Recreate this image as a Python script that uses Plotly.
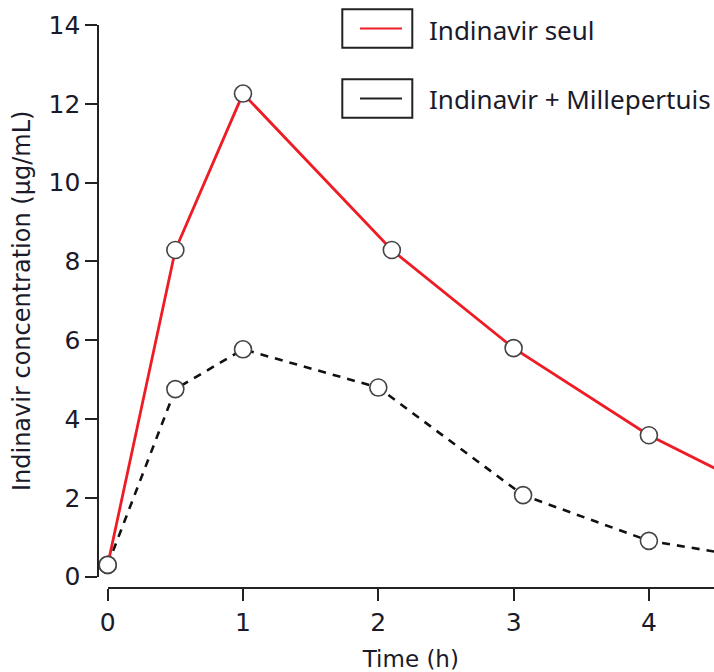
import plotly.graph_objects as go

# ---- data ----
time_alone = [0, 0.5, 1, 2.1, 3, 4, 5]
conc_alone = [0.3, 8.29, 12.26, 8.29, 5.80, 3.59, 1.87]
time_sjw = [0, 0.5, 1, 2, 3.07, 4, 5]
conc_sjw = [0.3, 4.76, 5.77, 4.80, 2.07, 0.91, 0.35]
series_names = ["Indinavir seul", "Indinavir + Millepertuis"]
x_ticks = [0, 1, 2, 3, 4]
y_ticks = [0, 2, 4, 6, 8, 10, 12, 14]
x_title = "Time (h)"
y_title = "Indinavir concentration (µg/mL)"

W, H = 714, 672


def px(x):
    return x / W


def py(y):
    return (H - y) / H


AXIS_COL = "#222222"
TICK_FONT = dict(family="DejaVu Sans", size=25, color="#1a1a2a")
marker_style = dict(symbol="circle", size=17, color="white",
                    line=dict(color="#444444", width=1.6))

fig = go.Figure()
fig.add_trace(go.Scatter(
    x=time_sjw, y=conc_sjw, mode="lines+markers", name=series_names[1],
    line=dict(color="#111111", width=2.6, dash="8px,7px"),
    marker=marker_style, cliponaxis=False, showlegend=False))
fig.add_trace(go.Scatter(
    x=time_alone, y=conc_alone, mode="lines+markers", name=series_names[0],
    line=dict(color="#ee1c25", width=2.8),
    marker=marker_style, cliponaxis=False, showlegend=False))

fig.update_layout(
    width=W, height=H,
    margin=dict(l=0, r=0, t=0, b=0),
    paper_bgcolor="white", plot_bgcolor="white",
    xaxis=dict(
        domain=[px(107.7), 1], range=[0, (714 - 107.7) / 135.3],
        anchor="free", position=py(588.3), automargin=False,
        tickvals=x_ticks, ticks="outside", ticklen=12, tickwidth=2,
        tickcolor=AXIS_COL, showline=True, linecolor=AXIS_COL, linewidth=2,
        showgrid=False, zeroline=False, tickfont=TICK_FONT,
        title=dict(text=x_title, font=dict(family="DejaVu Sans", size=23,
                                           color="#1a1a2a"), standoff=14),
    ),
    yaxis=dict(
        domain=[py(576.7), py(25)], range=[0, 14],
        anchor="free", position=px(98.3), automargin=False,
        tickvals=y_ticks, ticks="outside", ticklen=12, tickwidth=2,
        tickcolor=AXIS_COL, showline=True, linecolor=AXIS_COL, linewidth=2,
        showgrid=False, zeroline=False, tickfont=TICK_FONT,
        title=dict(text=y_title, font=dict(family="DejaVu Sans", size=24,
                                           color="#1a1a2a"), standoff=10),
    ),
)

# ---- hand-drawn style legend (boxes with line samples) ----
legend_rows = [
    dict(top=9.3, bottom=47.7, color="#ee1c25", name=series_names[0]),
    dict(top=79.3, bottom=117.7, color="#222222", name=series_names[1]),
]
for row in legend_rows:
    fig.add_shape(type="rect", xref="paper", yref="paper",
                  x0=px(342.3), x1=px(412.3), y0=py(row["bottom"]), y1=py(row["top"]),
                  line=dict(color="#222222", width=2), fillcolor="white")
    ym = (row["top"] + row["bottom"]) / 2
    fig.add_shape(type="line", xref="paper", yref="paper",
                  x0=px(360), x1=px(402), y0=py(ym), y1=py(ym),
                  line=dict(color=row["color"], width=1.8))
    fig.add_annotation(xref="paper", yref="paper", x=px(427), y=py(ym + 1),
                       xanchor="left", yanchor="middle", showarrow=False,
                       text=row["name"],
                       font=dict(family="Noto Sans", size=26, color="#1a1a2a"))

fig.write_html("out.html",
               config={"displayModeBar": False},
               post_script="document.body.style.margin='0px';"
                           "document.body.style.overflow='hidden';")
